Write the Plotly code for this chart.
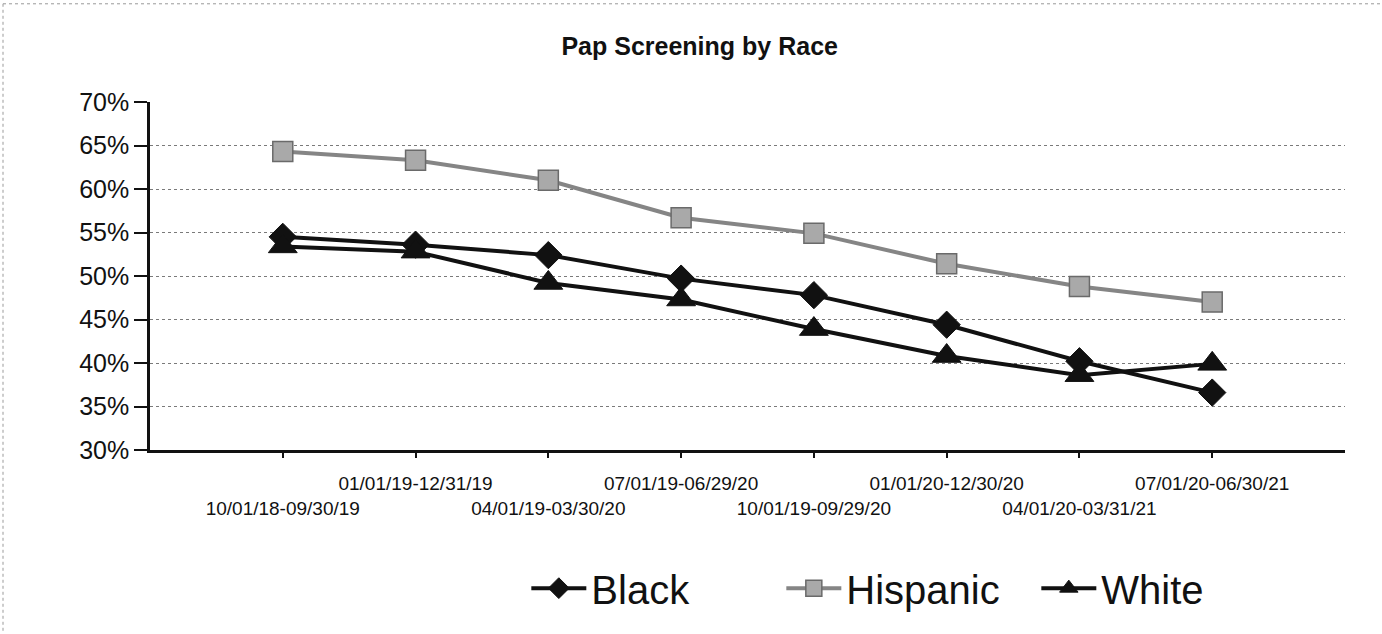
import plotly.graph_objects as go

# Reporting periods (rolling 12-month windows)
periods = [
    "10/01/18-09/30/19",
    "01/01/19-12/31/19",
    "04/01/19-03/30/20",
    "07/01/19-06/29/20",
    "10/01/19-09/29/20",
    "01/01/20-12/30/20",
    "04/01/20-03/31/21",
    "07/01/20-06/30/21",
]

# Screening rates (%) by race
black = [54.5, 53.6, 52.4, 49.7, 47.8, 44.4, 40.2, 36.6]
hispanic = [64.3, 63.3, 61.0, 56.7, 54.9, 51.4, 48.8, 47.0]
white = [53.4, 52.8, 49.2, 47.3, 43.9, 40.8, 38.6, 39.9]

y_ticks = [30, 35, 40, 45, 50, 55, 60, 65, 70]

# alternate rows so the long period labels do not collide
tick_text = [p if i % 2 else "<br>" + p for i, p in enumerate(periods)]

FONT = "Liberation Sans, Arial, sans-serif"

fig = go.Figure()

fig.add_trace(go.Scatter(
    x=periods, y=black, name="Black", mode="lines+markers",
    line=dict(color="#111111", width=4),
    marker=dict(symbol="diamond", size=21, color="#111111",
                line=dict(color="#111111", width=1)),
))
fig.add_trace(go.Scatter(
    x=periods, y=hispanic, name="Hispanic", mode="lines+markers",
    line=dict(color="#858585", width=4),
    marker=dict(symbol="square", size=20, color="#a9a9a9",
                line=dict(color="#6a6a6a", width=1.5)),
))
fig.add_trace(go.Scatter(
    x=periods, y=white, name="White", mode="lines+markers",
    line=dict(color="#111111", width=4),
    marker=dict(symbol="triangle-up", size=25, color="#111111",
                line=dict(color="#111111", width=1)),
))

fig.update_layout(
    width=1382, height=634,
    margin=dict(l=150, r=37, t=101.5, b=183.5),
    paper_bgcolor="white", plot_bgcolor="white",
    font=dict(family=FONT, color="#111111"),
    title=dict(
        text="<b>Pap Screening by Race</b>",
        font=dict(family=FONT, size=25, color="#111111"),
        x=0.46, xref="paper", xanchor="center",
        y=1 - 46 / 634, yref="container", yanchor="middle",
    ),
    showlegend=True,
    legend=dict(
        orientation="h",
        x=0.635, xanchor="center",
        y=-0.397, yanchor="middle",
        font=dict(family=FONT, size=40, color="#111111"),
        itemwidth=55,
        entrywidth=185, entrywidthmode="pixels",
        bgcolor="rgba(0,0,0,0)",
    ),
    xaxis=dict(
        type="category",
        range=[-1.0, 8.0],
        tickvals=periods, ticktext=tick_text,
        tickangle=0,
        tickfont=dict(family=FONT, size=19, color="#111111"),
        ticks="outside", ticklen=5, tickwidth=1.5, tickcolor="#111111",
        ticklabelstandoff=9,
        showline=True, linecolor="#111111", linewidth=3,
        showgrid=False, zeroline=False,
    ),
    yaxis=dict(
        range=[30, 70],
        tickvals=y_ticks,
        ticktext=[f"{v}%" for v in y_ticks],
        tickfont=dict(family=FONT, size=25, color="#111111"),
        ticks="outside", ticklen=13, tickwidth=2, tickcolor="#111111",
        showline=True, linecolor="#111111", linewidth=2.5,
        showgrid=True, gridcolor="#7a7a7a", gridwidth=1, griddash="dot",
        zeroline=False,
    ),
    shapes=[
        # thin frame along the top and left of the chart
        dict(type="line", xref="paper", yref="paper",
             x0=(3 - 150) / 1195, x1=(1382 - 150) / 1195,
             y0=1 + (101.5 - 3) / 349, y1=1 + (101.5 - 3) / 349,
             line=dict(color="#9a9a9a", width=1, dash="dot")),
        dict(type="line", xref="paper", yref="paper",
             x0=(3 - 150) / 1195, x1=(3 - 150) / 1195,
             y0=1 + (101.5 - 3) / 349, y1=(450.5 - 634) / 349,
             line=dict(color="#9a9a9a", width=1, dash="dot")),
    ],
)

fig.write_html("out.html")
